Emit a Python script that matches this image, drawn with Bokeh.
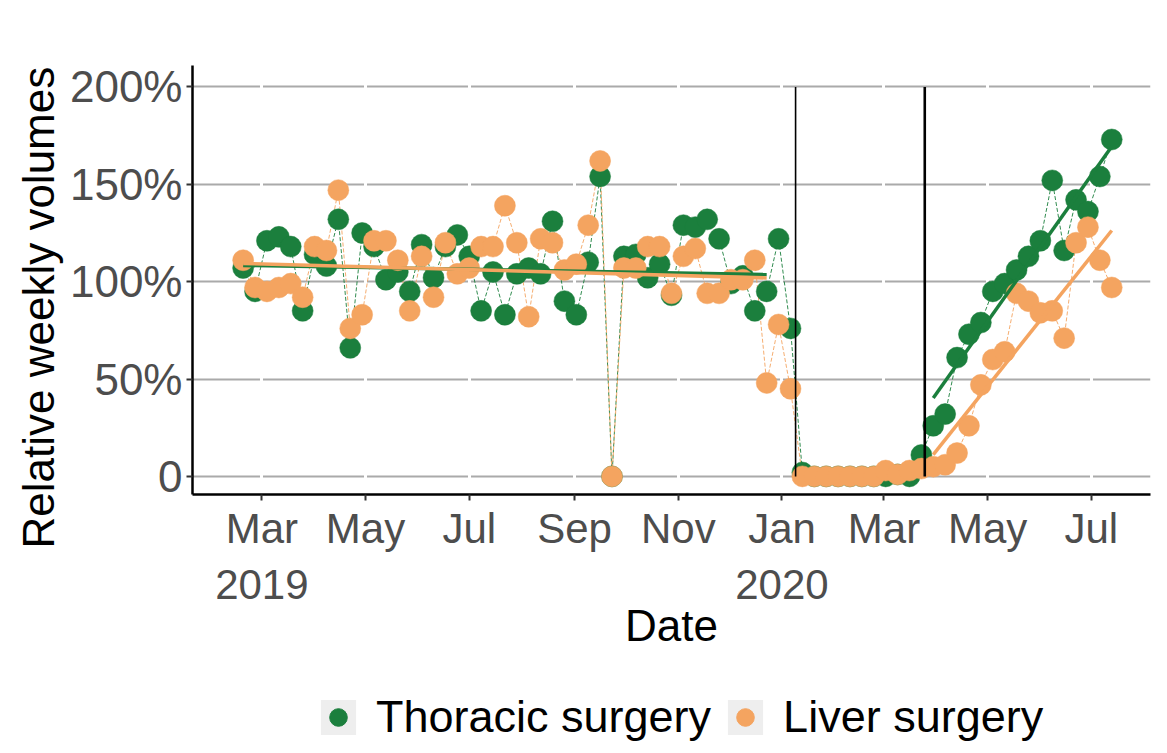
import numpy as np
import pandas as pd
from bokeh.plotting import figure
from bokeh.models import Range1d, FixedTicker, Legend, LegendItem, Title
from bokeh.layouts import column
from bokeh.embed import file_html
from bokeh.resources import INLINE

# ---------------- data ----------------
start_date = "2019-02-18"
n_weeks = 74
thoracic = [107, 95, 121, 123, 118, 85, 114, 108, 132, 66,
            125, 118, 101, 105, 95, 119, 102, 118, 124, 113,
            85, 105, 83, 104, 107, 104, 131, 90, 83, 110,
            154, 0, 113, 114, 102, 109, 93, 129, 128, 132,
            122, 99, 103, 85, 95, 122, 76, 2, 0, 0,
            0, 0, 0, 0, 0, 1, 0, 11, 26, 32,
            61, 73, 79, 95, 99, 106, 113, 121, 152, 116,
            142, 136, 154, 173]
liver = [111, 97, 95, 97, 99, 92, 118, 116, 147, 76,
         83, 121, 121, 111, 85, 113, 92, 120, 104, 107,
         118, 118, 139, 120, 82, 122, 120, 106, 109, 129,
         162, 0, 107, 107, 118, 118, 94, 113, 117, 94,
         94, 101, 101, 111, 48, 78, 45, 0, 0, 0,
         0, 0, 0, 0, 3, 1, 3, 4, 5, 6,
         12, 26, 47, 60, 64, 94, 90, 84, 85, 71,
         120, 128, 111, 97]
series_names = ["Thoracic surgery", "Liver surgery"]
series_colors = ["#1B7F3D", "#F4A460"]
fit_periods = [("2019-02-18", "2019-12-23"), ("2020-03-30", "2020-07-13")]
event_dates = ["2020-01-09", "2020-03-25"]
event_widths = [1.6, 2.6]
tick_dates = ["2019-03-01", "2019-05-01", "2019-07-01", "2019-09-01", "2019-11-01",
              "2020-01-01", "2020-03-01", "2020-05-01", "2020-07-01"]
tick_labels = ["Mar\n2019", "May", "Jul", "Sep", "Nov", "Jan\n2020", "Mar", "May", "Jul"]
y_ticks = [0, 50, 100, 150, 200]
y_tick_labels = ["0", "50%", "100%", "150%", "200%"]

# ---------------- helpers ----------------
origin = pd.Timestamp("2019-01-01")
def day(d):
    return int((pd.Timestamp(d) - origin).days)

dates = pd.date_range(start_date, periods=n_weeks, freq="7D")
x = np.array([(d - origin).days for d in dates], dtype=float)
tick_days = [day(d) for d in tick_dates]

FONT = "Liberation Sans"
W = 1160

p = figure(width=W, height=680,
           x_range=Range1d(18.2, 581.8), y_range=Range1d(-9.3, 211),
           output_backend="svg", toolbar_location=None,
           min_border_left=192, min_border_right=10,
           min_border_top=65, min_border_bottom=186)
p.outline_line_color = None
p.background_fill_color = "white"
p.border_fill_color = "white"

# grids
p.ygrid.ticker = FixedTicker(ticks=y_ticks)
p.ygrid.grid_line_color = "#AAAAAA"
p.ygrid.grid_line_width = 2
p.xgrid.ticker = FixedTicker(ticks=tick_days)
p.xgrid.grid_line_color = "white"
p.xgrid.grid_line_width = 3
xg = p.xgrid[0]
yg = p.ygrid[0]
p.center = [yg, xg] + [r for r in p.center if r is not xg and r is not yg]

# axes
for ax in (p.xaxis[0], p.yaxis[0]):
    ax.axis_line_color = "black"
    ax.axis_line_width = 2.5
    ax.major_tick_line_color = "#333333"
    ax.major_tick_line_width = 2
    ax.major_tick_out = 6
    ax.major_tick_in = 0
    ax.minor_tick_line_color = None
    ax.major_label_text_font = FONT
    ax.major_label_text_font_size = "42px"
    ax.major_label_text_color = "#4D4D4D"
    ax.axis_label_text_font = FONT
    ax.axis_label_text_font_size = "44px"
    ax.axis_label_text_font_style = "normal"
    ax.axis_label_text_color = "black"

p.xaxis.ticker = FixedTicker(ticks=tick_days)
p.xaxis.major_label_overrides = {d: l for d, l in zip(tick_days, tick_labels)}
p.xaxis.axis_label = "Date"
p.xaxis.major_label_standoff = 4
p.xaxis.axis_label_standoff = -10

p.yaxis.ticker = FixedTicker(ticks=y_ticks)
p.yaxis.major_label_overrides = {t: l for t, l in zip(y_ticks, y_tick_labels)}
p.yaxis.major_label_standoff = 4
p.yaxis.major_label_text_font_size = "44px"

ytitle = Title(text="Relative weekly volumes", align="left", offset=-54,
               text_font=FONT, text_font_size="44px", text_font_style="normal",
               text_color="black", standoff=8)
p.add_layout(ytitle, "left")

# connecting dashed lines
values = [np.array(thoracic, dtype=float), np.array(liver, dtype=float)]
for vals, col in zip(values, series_colors):
    p.line(x, vals, line_color=col, line_width=1, line_dash="4 2", line_alpha=0.9)

# points
for vals, col in zip(values, series_colors):
    p.scatter(x, vals, size=21, fill_color=col, line_color=col, line_width=0.5)

# linear trends per period
for vals, col in zip(values, series_colors):
    for a, b in fit_periods:
        m = (x >= day(a)) & (x <= day(b))
        k, c = np.polyfit(x[m], vals[m], 1)
        xs = np.array([x[m].min(), x[m].max()])
        p.line(xs, k * xs + c, line_color=col, line_width=3.5)

# event markers
ed = [day(d) for d in event_dates]
p.segment(x0=ed, y0=[0] * len(ed), x1=ed, y1=[200] * len(ed),
          line_color="black", line_width=event_widths)

# ---------------- legend strip ----------------
lg = figure(width=W, height=73, x_range=Range1d(0, 1), y_range=Range1d(0, 1),
            output_backend="svg", toolbar_location=None,
            min_border_left=0, min_border_right=0, min_border_top=0, min_border_bottom=0)
lg.axis.visible = False
lg.grid.visible = False
lg.outline_line_color = None
lg.border_fill_color = "white"
items = []
for name, col in zip(series_names, series_colors):
    bg = lg.quad(left=[-10], right=[-9], bottom=[-10], top=[-9],
                 fill_color="#EEEEEE", line_color=None)
    dot = lg.scatter(x=[-10], y=[-10], size=14, fill_color=col, line_color=col)
    items.append(LegendItem(label=name, renderers=[bg, dot]))

legend = Legend(items=items, orientation="horizontal", location=(124, 10),
                label_text_font=FONT, label_text_font_size="45px",
                label_text_color="black",
                glyph_width=44, glyph_height=44, label_standoff=16, spacing=12,
                border_line_color=None, background_fill_alpha=0,
                padding=0, margin=0)
lg.add_layout(legend, "center")

layout = column(p, lg, spacing=0)
open("out.html", "w").write(file_html(layout, INLINE))
